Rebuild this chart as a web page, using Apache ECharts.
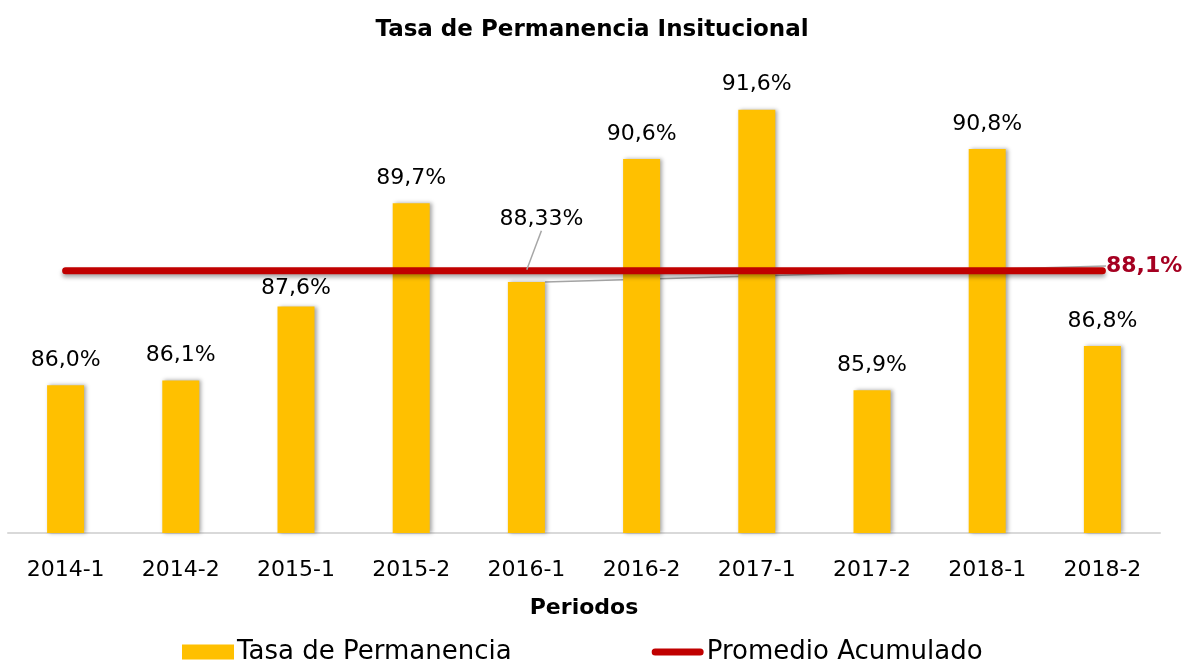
<!DOCTYPE html>
<html>
<head>
<meta charset="utf-8">
<script src="https://cdn.jsdelivr.net/npm/echarts@6/dist/echarts.min.js"></script>
<style>
  html, body { margin: 0; padding: 0; background: #fff; }
  #chart { width: 1184px; height: 663px; }
</style>
</head>
<body>
<div id="chart"></div>
<script>
// datos
var periodos = ['2014-1', '2014-2', '2015-1', '2015-2', '2016-1', '2016-2', '2017-1', '2017-2', '2018-1', '2018-2']
var tasa = [86.0, 86.1, 87.6, 89.7, 88.1, 90.6, 91.6, 85.9, 90.8, 86.8]
var promedio = [88.33, 88.33, 88.33, 88.33, 88.33, 88.33, 88.33, 88.33, 88.33, 88.33]

var fuente = 'DejaVu Sans'

function pct(v, d) {
  return v.toFixed(d).replace('.', ',') + '%'
}

var chart = echarts.init(document.getElementById('chart'))

var guia = { show: true, lineStyle: { color: '#a6a6a6', width: 1.5 } }

var option = {
  backgroundColor: '#fff',
  textStyle: { fontFamily: fuente },
  title: {
    text: 'Tasa de Permanencia Insitucional',
    left: 'center',
    top: 14,
    textStyle: { fontSize: 23, fontWeight: 'bold', color: '#000', fontFamily: fuente }
  },
  legend: {
    bottom: -7,
    left: 177,
    itemWidth: 52,
    itemHeight: 15,
    itemGap: 140,
    textStyle: { fontSize: 26, color: '#000', fontFamily: fuente, padding: [0, 0, 0, -2] },
    data: [
      { name: 'Tasa de Permanencia', icon: 'rect' },
      {
        name: 'Promedio Acumulado',
        icon: 'path://M3.5,0 L48.5,0 A3.5,3.5 0 0 1 48.5,7 L3.5,7 A3.5,3.5 0 0 1 3.5,0 Z',
        itemStyle: { color: '#C00000' }
      }
    ]
  },
  grid: { left: 8, right: 24, top: 90, bottom: 130 },
  xAxis: {
    type: 'category',
    data: periodos,
    name: 'Periodos',
    nameLocation: 'middle',
    nameGap: 64,
    nameTextStyle: { fontSize: 22, fontWeight: 'bold', color: '#000', fontFamily: fuente },
    axisLine: { lineStyle: { color: '#d9d9d9', width: 2 } },
    axisTick: { show: false },
    axisLabel: { fontSize: 22, color: '#000', margin: 26, fontFamily: fuente }
  },
  yAxis: {
    type: 'value',
    min: 83,
    max: 92,
    show: false,
    splitLine: { show: false }
  },
  series: [
    {
      name: 'Tasa de Permanencia',
      type: 'bar',
      barWidth: 37,
      data: tasa.map(function (v, i) {
        if (i === 4) {
          return { value: v, label: { color: '#A50021', fontWeight: 'bold' }, labelLine: guia }
        }
        return v
      }),
      itemStyle: {
        color: '#FFC000',
        shadowColor: 'rgba(0,0,0,0.35)',
        shadowBlur: 4,
        shadowOffsetX: 2
      },
      label: {
        show: true,
        position: 'top',
        distance: 14,
        fontSize: 22,
        color: '#000',
        fontFamily: fuente,
        formatter: function (p) { return pct(p.value, 1) }
      },
      labelLayout: function (p) {
        if (p.dataIndex === 4) {
          return { x: 1106, y: 266, align: 'left', verticalAlign: 'middle' }
        }
        if (p.dataIndex === 2) {
          return { dy: 7 }
        }
      },
      z: 2
    },
    {
      name: 'Promedio Acumulado',
      type: 'line',
      data: promedio.map(function (v, i) {
        if (i === 4) {
          return { value: v, label: { show: true }, labelLine: guia }
        }
        return v
      }),
      symbol: 'circle',
      symbolSize: 2,
      showSymbol: true,
      lineStyle: {
        color: '#C00000',
        width: 7,
        cap: 'round',
        shadowColor: 'rgba(0,0,0,0.35)',
        shadowBlur: 4,
        shadowOffsetY: 3
      },
      itemStyle: { color: '#C00000' },
      label: {
        show: false,
        position: 'top',
        distance: 5,
        fontSize: 22,
        color: '#000',
        fontFamily: fuente,
        formatter: function (p) { return pct(p.value, 2) }
      },
      labelLayout: function (p) {
        if (p.dataIndex === 4) {
          return { dx: 15, dy: -34 }
        }
      },
      z: 3
    }
  ]
}

chart.setOption(option)
</script>
</body>
</html>
